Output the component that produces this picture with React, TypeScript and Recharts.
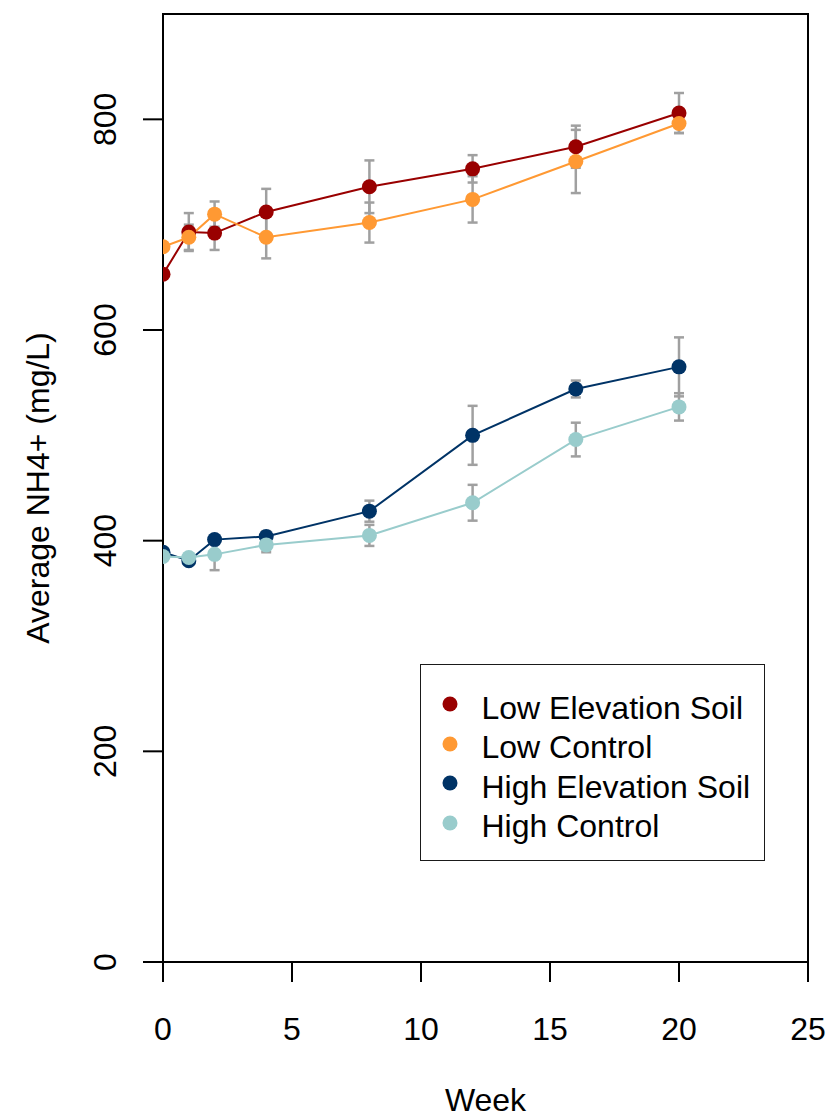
import React from 'react';
import { LineChart, Line, XAxis, YAxis, ErrorBar, ReferenceArea, Legend } from 'recharts';

const weeks = [0, 1, 2, 4, 8, 12, 16, 20];
const lowSoil = [653, 693, 692, 712, 736, 753, 774, 806];
const lowSoilErr = [0, 18, 16, 22, 25, 13, 20, 19];
const lowControl = [679, 688, 710, 688, 702, 724, 760, 796];
const lowControlErr = [0, 12, 12, 20, 19, 22, 30, 9];
const highSoil = [389, 381, 401, 404, 428, 500, 544, 565];
const highSoilErr = [0, 3, 3, 5, 10, 28, 8, 28];
const highControl = [385, 384, 387, 396, 405, 436, 496, 527];
const highControlErr = [0, 3, 15, 7, 10, 17, 16, 13];

const xTicks = [0, 5, 10, 15, 20, 25];
const yTicks = [0, 200, 400, 600, 800];

const seriesKeys = ['lowSoil', 'lowControl', 'highSoil', 'highControl'];
const seriesNames = ['Low Elevation Soil', 'Low Control', 'High Elevation Soil', 'High Control'];
const seriesColors = ['#990000', '#FF9933', '#003366', '#99CCCC'];

const data = weeks.map((w, i) => ({
  week: w,
  lowSoil: lowSoil[i],
  lowSoilErr: lowSoilErr[i],
  lowControl: lowControl[i],
  lowControlErr: lowControlErr[i],
  highSoil: highSoil[i],
  highSoilErr: highSoilErr[i],
  highControl: highControl[i],
  highControlErr: highControlErr[i],
}));

const FONT = 32;

const YTick = (props: any) => {
  const { x, y, payload } = props;
  const tx = x - 25;
  return (
    <text x={tx} y={y} transform={`rotate(-90, ${tx}, ${y})`} textAnchor="middle" fontSize={FONT} fill="#000">
      {payload.value}
    </text>
  );
};

const XTick = (props: any) => {
  const { x, y, payload } = props;
  return (
    <text x={x} y={y + 56} textAnchor="middle" fontSize={FONT} fill="#000">
      {payload.value}
    </text>
  );
};

const LegendBox = (props: any) => {
  const items = (props.payload || [])
    .filter((p: any) => p.type !== 'none' && seriesNames.indexOf(p.value) >= 0)
    .slice()
    .sort((a: any, b: any) => seriesNames.indexOf(a.value) - seriesNames.indexOf(b.value));
  return (
    <div
      style={{
        position: 'relative',
        width: 345,
        height: 197,
        boxSizing: 'border-box',
        border: '1.5px solid #1a1a1a',
        background: '#fff',
      }}
    >
      {items.map((it: any, i: number) => (
        <div
          key={it.value}
          style={{
            position: 'absolute',
            left: 0,
            top: 40 - 16 + i * 39.5 - 1.5,
            height: 40,
            lineHeight: '40px',
            fontSize: FONT,
            color: '#000',
            whiteSpace: 'nowrap',
          }}
        >
          <svg width={16} height={16} style={{ position: 'absolute', left: 22.5 - 1.5, top: 8.5 }}>
            <circle cx={8} cy={8} r={7.5} fill={it.color} />
          </svg>
          <span style={{ position: 'absolute', left: 60.5 }}>{it.value}</span>
        </div>
      ))}
    </div>
  );
};

export default function App() {
  return (
    <div
      style={{
        position: 'absolute',
        left: 0,
        top: 0,
        width: 828,
        height: 1117,
        background: '#fff',
        fontFamily: "'Liberation Sans', Arial, sans-serif",
      }}
    >
      <LineChart width={828} height={1117} data={data} margin={{ top: 14, right: 20, left: 0, bottom: 0 }}>
        <XAxis
          dataKey="week"
          type="number"
          domain={[0, 25]}
          ticks={xTicks}
          allowDataOverflow
          height={155}
          tickSize={20}
          tick={<XTick />}
          axisLine={{ stroke: '#000', strokeWidth: 2 }}
          tickLine={{ stroke: '#000', strokeWidth: 2 }}
          label={{ value: 'Week', position: 'insideBottom', offset: 6, fontSize: FONT, fill: '#000' }}
        />
        <YAxis
          type="number"
          domain={[0, 900]}
          ticks={yTicks}
          allowDataOverflow
          width={163}
          tickSize={20}
          tick={<YTick />}
          axisLine={{ stroke: '#000', strokeWidth: 2 }}
          tickLine={{ stroke: '#000', strokeWidth: 2 }}
          label={{
            value: 'Average NH4+ (mg/L)',
            angle: -90,
            position: 'insideLeft',
            offset: 38,
            fontSize: FONT,
            fill: '#000',
            style: { textAnchor: 'middle' },
          }}
        />
        <ReferenceArea x1={0} x2={25} y1={0} y2={900} fill="none" fillOpacity={0} stroke="#000" strokeWidth={2} ifOverflow="visible" />
        {seriesKeys.map((k) => (
          <Line
            key={k + '-err'}
            dataKey={k}
            stroke="none"
            dot={false}
            activeDot={false}
            legendType="none"
            isAnimationActive={false}
          >
            <ErrorBar dataKey={k + 'Err'} direction="y" width={5} stroke="#A0A0A0" strokeWidth={2.5} />
          </Line>
        ))}
        {seriesKeys.map((k, i) => (
          <Line
            key={k}
            dataKey={k}
            name={seriesNames[i]}
            stroke={seriesColors[i]}
            strokeWidth={2}
            dot={{ r: 7.5, fill: seriesColors[i], stroke: seriesColors[i], strokeWidth: 0 }}
            activeDot={false}
            legendType="circle"
            isAnimationActive={false}
          />
        ))}
        <Legend
          layout="vertical"
          align="center"
          verticalAlign="middle"
          itemSorter={null as any}
          content={<LegendBox />}
          wrapperStyle={{ left: 420, top: 664, width: 345, height: 197 }}
        />
      </LineChart>
    </div>
  );
}
